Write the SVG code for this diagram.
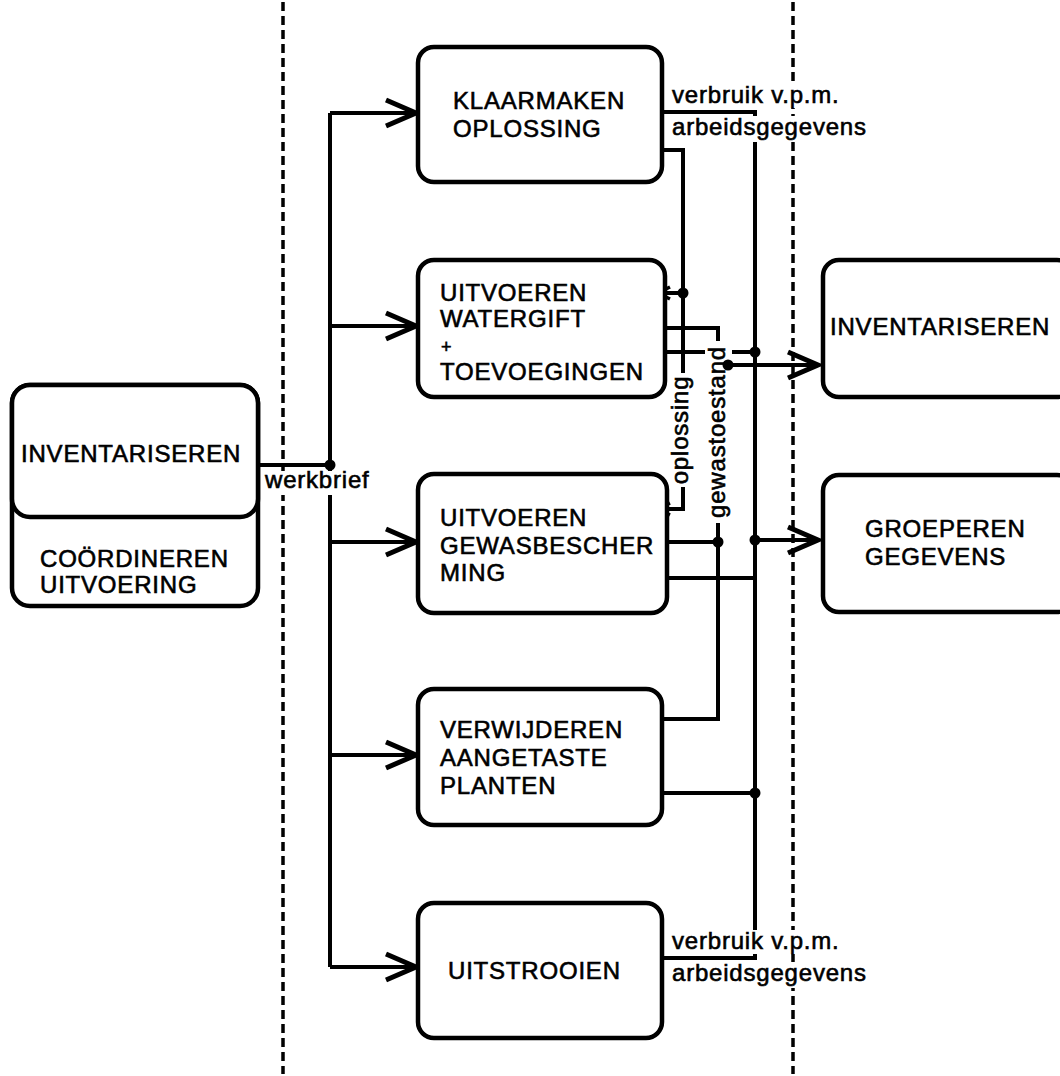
<svg xmlns="http://www.w3.org/2000/svg" width="1060" height="1076" viewBox="0 0 1060 1076">
<style>
text{font-family:"Liberation Sans",Arial,sans-serif;font-size:24px;letter-spacing:0.8px;fill:#000;stroke:#000;stroke-width:0.6px}
.box{fill:#fff;stroke:#000;stroke-width:4.5}
.ln{fill:none;stroke:#000;stroke-width:4}
.dash{fill:none;stroke:#000;stroke-width:3.5;stroke-dasharray:9 5}
.bg{fill:#fff}
</style>
<defs>
<marker id="big" markerUnits="userSpaceOnUse" markerWidth="40" markerHeight="34" refX="32" refY="15" orient="auto" overflow="visible">
<path d="M2,2 L32,15 L2,28" fill="none" stroke="#000" stroke-width="5"/>
</marker>
<marker id="small" markerUnits="userSpaceOnUse" markerWidth="20" markerHeight="20" refX="14" refY="8" orient="auto" overflow="visible">
<path d="M2,2 L14,8 L2,14" fill="none" stroke="#000" stroke-width="3.5"/>
</marker>
</defs>
<rect width="1060" height="1076" fill="#fff"/>
<g id="boundaries">
<line class="dash" x1="283" y1="2" x2="283" y2="1074"/>
<line class="dash" x1="793" y1="2" x2="793" y2="1074"/>
</g>
<g id="connectors">
<path class="ln" d="M258,465 H330"/>
<path class="ln" d="M330,113 V967"/>
<path class="ln" d="M330,113 H416" marker-end="url(#big)"/>
<path class="ln" d="M330,326 H416" marker-end="url(#big)"/>
<path class="ln" d="M330,542 H416" marker-end="url(#big)"/>
<path class="ln" d="M330,755 H416" marker-end="url(#big)"/>
<path class="ln" d="M330,967 H416" marker-end="url(#big)"/>
<path class="ln" d="M662,112 H755 V958 H662"/>
<path class="ln" d="M662,150 H683 V509 H658" marker-end="url(#small)"/>
<path class="ln" d="M683,293 H658" marker-end="url(#small)"/>
<path class="ln" d="M665,328 H718 V719 H662"/>
<path class="ln" d="M665,352 H755"/>
<path class="ln" d="M667,542 H718"/>
<path class="ln" d="M755,540 H818" marker-end="url(#big)"/>
<path class="ln" d="M667,578 H755"/>
<path class="ln" d="M662,793 H755"/>
<path class="ln" d="M728,365 H818" marker-end="url(#big)"/>
<rect class="bg" x="263" y="471" width="112" height="24"/>
<text x="265" y="488">werkbrief</text>
<rect class="bg" x="670" y="84" width="176" height="24"/>
<text x="672" y="103">verbruik v.p.m.</text>
<rect class="bg" x="670" y="116" width="202" height="26"/>
<text x="672" y="135">arbeidsgegevens</text>
<rect class="bg" x="670" y="930" width="176" height="24"/>
<text x="672" y="949">verbruik v.p.m.</text>
<rect class="bg" x="670" y="962" width="202" height="26"/>
<text x="672" y="981">arbeidsgegevens</text>
<rect class="bg" x="670" y="373" width="25" height="114"/>
<text transform="translate(688,430) rotate(-90)" text-anchor="middle">oplossing</text>
<rect class="bg" x="705" y="341" width="27" height="182"/>
<text transform="translate(725,432) rotate(-90)" text-anchor="middle">gewastoestand</text>
<circle cx="330" cy="465" r="5.5"/>
<circle cx="683" cy="293" r="5.5"/>
<circle cx="755" cy="352" r="5.5"/>
<circle cx="728" cy="365" r="5.5"/>
<circle cx="718" cy="542" r="5.5"/>
<circle cx="755" cy="540" r="5.5"/>
<circle cx="755" cy="793" r="5.5"/>
</g>
<g id="coordineren">
<rect class="box" x="12" y="385" width="246" height="221" rx="18"/>
<rect class="box" x="12" y="385" width="246" height="132" rx="18"/>
<text x="21" y="462">INVENTARISEREN</text>
<text x="40" y="567">COÖRDINEREN</text>
<text x="40" y="593">UITVOERING</text>
</g>
<g id="klaarmaken">
<rect class="box" x="418" y="47" width="244" height="135" rx="16"/>
<text x="453" y="109">KLAARMAKEN</text>
<text x="453" y="137">OPLOSSING</text>
</g>
<g id="watergift">
<rect class="box" x="418" y="260" width="247" height="137" rx="16"/>
<text x="440" y="301">UITVOEREN</text>
<text x="440" y="327">WATERGIFT</text>
<text x="441" y="353" style="font-size:18px">+</text>
<text x="440" y="380">TOEVOEGINGEN</text>
</g>
<g id="gewasbescherming">
<rect class="box" x="418" y="474" width="249" height="139" rx="16"/>
<text x="440" y="526">UITVOEREN</text>
<text x="440" y="554">GEWASBESCHER</text>
<text x="440" y="581">MING</text>
</g>
<g id="verwijderen">
<rect class="box" x="418" y="689" width="244" height="136" rx="16"/>
<text x="440" y="738">VERWIJDEREN</text>
<text x="440" y="766">AANGETASTE</text>
<text x="440" y="794">PLANTEN</text>
</g>
<g id="uitstrooien">
<rect class="box" x="418" y="903" width="244" height="135" rx="16"/>
<text x="448" y="979">UITSTROOIEN</text>
</g>
<g id="inventariseren">
<rect class="box" x="823" y="260" width="250" height="137" rx="16"/>
<text x="830" y="335">INVENTARISEREN</text>
</g>
<g id="groeperen">
<rect class="box" x="823" y="475" width="250" height="137" rx="16"/>
<text x="865" y="537">GROEPEREN</text>
<text x="865" y="565">GEGEVENS</text>
</g>
</svg>
